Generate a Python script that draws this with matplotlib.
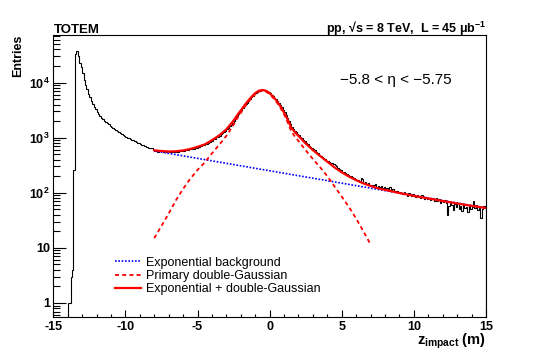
import numpy as np
import matplotlib
matplotlib.use("Agg")
import matplotlib.pyplot as plt
from matplotlib.ticker import FixedLocator, LogLocator, MultipleLocator

plt.rcParams['font.family'] = ['Liberation Sans', 'DejaVu Sans']
plt.rcParams['mathtext.fontset'] = 'custom'
plt.rcParams['mathtext.rm'] = 'Liberation Sans'
plt.rcParams['mathtext.bf'] = 'Liberation Sans:bold'
plt.rcParams['mathtext.it'] = 'Liberation Sans:italic'
plt.rcParams['axes.unicode_minus'] = False

# histogram: 0.1 m bins starting at z = -14.0 m
hist_start = -14.0
bin_width = 0.1
counts = [
    1, 1, 3, 4, 260, 33000, 37000, 30000, 23000, 19000,
    15000, 11000, 9000, 7600, 6300, 5500, 4700, 4100, 3600, 3300,
    2950, 2650, 2450, 2280, 2150, 2020, 1930, 1840, 1740, 1650,
    1580, 1500, 1430, 1380, 1310, 1250, 1200, 1160, 1110, 1080,
    1040, 1000, 975, 945, 920, 890, 860, 835, 810, 790,
    770, 745, 725, 705, 690, 665, 650, 660, 640, 610,
    575, 590, 560, 585, 570, 590, 555, 575, 545, 570,
    560, 545, 575, 550, 560, 585, 560, 590, 575, 600,
    580, 600, 615, 595, 630, 615, 645, 630, 665, 650,
    690, 675, 710, 725, 745, 760, 770, 810, 820, 870,
    885, 930, 960, 1010, 1050, 1090, 1150, 1200, 1270, 1340,
    1410, 1520, 1610, 1730, 1880, 2030, 2230, 2440, 2660, 2890,
    3120, 3420, 3730, 4010, 4340, 4680, 5010, 5380, 5720, 6080,
    6420, 6700, 6990, 7200, 7330, 7380, 7300, 7180, 6960, 6690,
    6400, 6020, 5660, 5300, 4940, 4580, 4200, 3860, 3530, 3190,
    2870, 2560, 2260, 1990, 1760, 1560, 1460, 1340, 1260, 1180,
    1100, 1030, 970, 900, 860, 800, 770, 720, 690, 640,
    615, 590, 550, 530, 490, 470, 455, 430, 410, 380,
    370, 365, 350, 340, 330, 315, 300, 285, 265, 255,
    240, 235, 225, 215, 210, 200, 205, 190, 185, 175,
    172, 170, 165, 185, 175, 150, 155, 145, 148, 140,
    136, 135, 138, 145, 130, 135, 128, 132, 120, 125,
    118, 122, 112, 125, 110, 115, 105, 110, 108, 100,
    104, 98, 95, 102, 96, 88, 98, 92, 86, 94,
    88, 84, 92, 86, 80, 90, 84, 76, 85, 78,
    82, 74, 80, 77, 72, 80, 70, 76, 66, 72,
    68, 74, 64, 40, 58, 66, 60, 48, 62, 55,
    64, 50, 58, 47, 60, 52, 56, 45, 58, 50,
    55, 72, 52, 60, 48, 54, 35, 50, 58, 55,
]

# exponential background (straight on log scale)
bg_z = [-8.0, 15.0]
bg_y = [575, 53]

# primary double-Gaussian
gauss_z = [-8.0, -7.5, -7.0, -6.5, -6.0, -5.5, -5.0, -4.5, -4.0, -3.5, -3.0,
           -2.5, -2.25, -2.0, -1.75, -1.5, -1.25, -1.0, -0.75, -0.5, -0.25,
           0.0, 0.25, 0.5, 0.75, 1.0, 1.25, 1.5, 1.75, 2.0, 2.5, 3.0, 3.5,
           4.0, 4.5, 5.0, 5.5, 6.0, 6.5, 7.0]
gauss_y = [15, 25, 42, 73, 118, 180, 260, 355, 520, 740, 1080,
           1720, 2240, 2820, 3550, 4370, 5250, 6170, 6840, 7080, 6840,
           6170, 5250, 4370, 3470, 2630, 1900, 1300, 1050, 870, 590, 410, 290,
           200, 130, 85, 55, 34, 20, 11.5]

# exponential + double-Gaussian
fit_z = [-8.0, -7.5, -7.0, -6.5, -6.0, -5.5, -5.0, -4.5, -4.0, -3.5, -3.0,
         -2.5, -2.25, -2.0, -1.75, -1.5, -1.25, -1.0, -0.75, -0.5, -0.25,
         0.0, 0.25, 0.5, 0.75, 1.0, 1.25, 1.5, 1.75, 2.0, 2.5, 3.0, 3.5,
         4.0, 4.5, 5.0, 5.5, 6.0, 6.5, 7.0, 7.5, 8.0, 9.0, 10.0, 11.0,
         12.0, 13.0, 14.0, 15.0]
fit_y = [590, 572, 561, 566, 586, 624, 682, 755, 900, 1100, 1420,
         2045, 2557, 3129, 3851, 4663, 5536, 6449, 7112, 7345, 7098,
         6421, 5495, 4609, 3702, 2856, 2121, 1515, 1260, 1074, 784, 594, 465,
         366, 288, 235, 197, 169, 148, 133, 121, 113, 99, 88, 79,
         71, 64, 58, 53]

x_ticks = [-15, -10, -5, 0, 5, 10, 15]
x_tick_labels = ['-15', '-10', '-5', '0', '5', '10', '15']
y_ticks = [1, 10, 100, 1000, 10000]
y_tick_labels = ['1', '10', r'$\mathbf{10^{2}}$', r'$\mathbf{10^{3}}$', r'$\mathbf{10^{4}}$']

edges = hist_start + bin_width * np.arange(len(counts) + 1)

fig = plt.figure(figsize=(5.4, 3.55), dpi=100)
ax = fig.add_axes([0.0987, 0.1062, 0.8013, 0.7952])

ax.stairs(counts, edges, baseline=0.01, color='black', lw=0.8)
ax.plot(bg_z, bg_y, color='#0000ff', ls=(0, (1, 1)), lw=1.2,
        label='Exponential background')
ax.plot(gauss_z, gauss_y, color='#ff0000', ls=(0, (2.2, 1.8)), lw=1.3,
        label='Primary double-Gaussian')
ax.plot(fit_z, fit_y, color='#ff0000', lw=1.6,
        label='Exponential + double-Gaussian')

ax.set_yscale('log')
ax.set_xlim(-15, 15)
ax.set_ylim(0.55, 7.3e4)

ax.set_xticks(x_ticks, labels=x_tick_labels, fontweight='bold')
ax.xaxis.set_minor_locator(MultipleLocator(1))
ax.yaxis.set_major_locator(FixedLocator(y_ticks))
ax.set_yticks(y_ticks, labels=y_tick_labels, fontweight='bold')
ax.yaxis.set_minor_locator(LogLocator(base=10, subs=np.arange(2, 10), numticks=20))

ax.tick_params(axis='both', which='both', direction='in', top=False, right=False,
               width=0.8, labelsize=9)
ax.tick_params(axis='y', which='major', length=9.4, pad=2.5)
ax.tick_params(axis='y', which='minor', length=5)
ax.tick_params(axis='x', which='major', length=5, pad=3)
ax.tick_params(axis='x', which='minor', length=2.5)
for s in ax.spines.values():
    s.set_linewidth(0.8)

ax.legend(loc='center left', bbox_to_anchor=(0.1426, 0.1463), frameon=False,
          fontsize=9, borderaxespad=0, borderpad=0, handlelength=2.1,
          handletextpad=0.4, labelspacing=0.1)

ax.text(0.791, 0.8406, '\u22125.8 < \u03b7 < \u22125.75', transform=ax.transAxes,
        ha='center', va='center', fontsize=11)

fig.text(0.1, 0.907, 'TOTEM', fontsize=9.5, fontweight='bold', va='baseline')
fig.text(0.9, 0.906, 'pp, \u221as = 8 TeV,  L = 45 \u03bcb$^{\\mathbf{-1}}$',
         fontsize=9, fontweight='bold', ha='right', va='baseline')
fig.text(0.034, 0.9014, 'Entries', rotation=90, fontsize=9, fontweight='bold',
         ha='center', va='top')
fig.text(0.9, 0.029, r'$\mathbf{z_{impact}}$ (m)', fontsize=10.5,
         fontweight='bold', ha='right', va='baseline')

fig.savefig('out.png', dpi=100)
